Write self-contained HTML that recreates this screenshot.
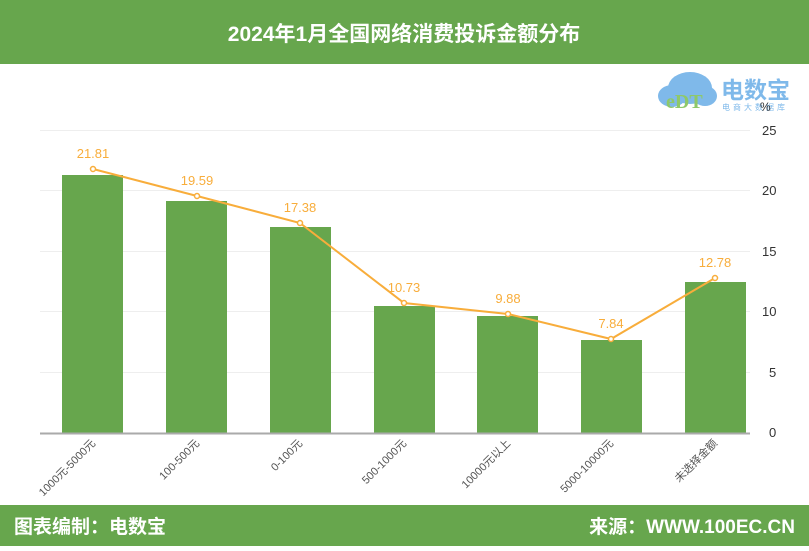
<!DOCTYPE html>
<html><head><meta charset="utf-8"><style>
body{margin:0;width:809px;height:546px;overflow:hidden;background:#fff;font-family:"Liberation Sans","Noto Sans CJK SC",sans-serif}
</style></head><body>
<svg width="809" height="546" xmlns="http://www.w3.org/2000/svg" style="font-family:'Liberation Sans','Noto Sans CJK SC',sans-serif">
<rect x="0" y="0" width="809" height="64" fill="#67a64d"/>
<text x="404" y="41" text-anchor="middle" font-size="21" font-weight="bold" fill="#fff">2024年1月全国网络消费投诉金额分布</text>
<rect x="0" y="505" width="809" height="41" fill="#67a64d"/>
<text x="14" y="533" font-size="19" font-weight="bold" fill="#fff">图表编制：电数宝</text>
<text x="795" y="533" text-anchor="end" font-size="19" font-weight="bold" fill="#fff">来源：WWW.100EC.CN</text>
<!-- logo -->
<g>
<ellipse cx="690" cy="88" rx="22" ry="16" fill="#7fb9ea"/>
<ellipse cx="672" cy="96" rx="14" ry="11" fill="#7fb9ea"/>
<ellipse cx="705" cy="96" rx="12" ry="10" fill="#7fb9ea"/>
<text x="666" y="108" font-size="20" font-weight="bold" fill="#8ec86a" font-family="Liberation Serif,serif">eDT</text>
<text x="721" y="98" font-size="23" font-weight="bold" fill="#7fb9ea">电数宝</text>
<text x="722" y="110" font-size="8" fill="#7fb9ea" letter-spacing="3">电商大数据库</text>
<text x="760" y="111" font-size="12" fill="#333">%</text>
</g>
<g stroke="#eeeeee" stroke-width="1">
<line x1="40" y1="130.5" x2="750" y2="130.5"/>
<line x1="40" y1="190.5" x2="750" y2="190.5"/>
<line x1="40" y1="251.5" x2="750" y2="251.5"/>
<line x1="40" y1="311.5" x2="750" y2="311.5"/>
<line x1="40" y1="372.5" x2="750" y2="372.5"/>
</g>
<g font-size="13" fill="#333">
<text x="762" y="135">25</text><text x="762" y="195">20</text><text x="762" y="256">15</text>
<text x="762" y="316">10</text><text x="769" y="377">5</text><text x="769" y="437">0</text>
</g>
<g fill="#67a64d">
<rect x="62" y="175" width="61" height="258"/>
<rect x="166" y="201" width="61" height="232"/>
<rect x="270" y="227" width="61" height="206"/>
<rect x="374" y="306" width="61" height="127"/>
<rect x="477" y="316" width="61" height="117"/>
<rect x="581" y="340" width="61" height="93"/>
<rect x="685" y="282" width="61" height="151"/>
</g>
<line x1="40" y1="433.5" x2="750" y2="433.5" stroke="#aaa" stroke-width="2"/>
<polyline points="93,169 197,196 300,223 404,303 508,314 611,339 715,278" fill="none" stroke="#f8ad3b" stroke-width="2"/>
<g fill="#fff" stroke="#f8ad3b" stroke-width="1.5">
<circle cx="93" cy="169" r="2.5"/><circle cx="197" cy="196" r="2.5"/><circle cx="300" cy="223" r="2.5"/>
<circle cx="404" cy="303" r="2.5"/><circle cx="508" cy="314" r="2.5"/><circle cx="611" cy="339" r="2.5"/><circle cx="715" cy="278" r="2.5"/>
</g>
<g font-size="13" fill="#f8ad3b" text-anchor="middle">
<text x="93" y="158">21.81</text><text x="197" y="185">19.59</text><text x="300" y="212">17.38</text>
<text x="404" y="292">10.73</text><text x="508" y="303">9.88</text><text x="611" y="328">7.84</text><text x="715" y="267">12.78</text>
</g>
<g font-size="11" fill="#555" text-anchor="end">
<text transform="translate(96,444) rotate(-45)">1000元-5000元</text>
<text transform="translate(200,444) rotate(-45)">100-500元</text>
<text transform="translate(303,444) rotate(-45)">0-100元</text>
<text transform="translate(407,444) rotate(-45)">500-1000元</text>
<text transform="translate(511,444) rotate(-45)">10000元以上</text>
<text transform="translate(614,444) rotate(-45)">5000-10000元</text>
<text transform="translate(718,444) rotate(-45)">未选择金额</text>
</g>
</svg>
</body></html>
